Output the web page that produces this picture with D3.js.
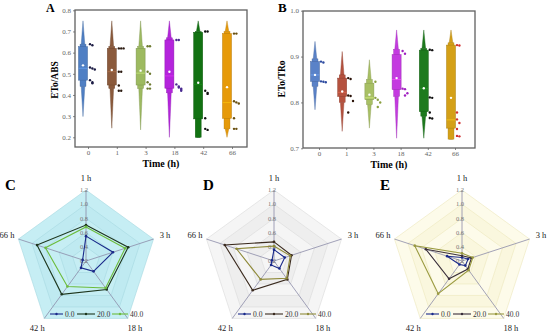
<!DOCTYPE html>
<html><head><meta charset="utf-8">
<script src="https://cdn.jsdelivr.net/npm/d3@7"></script>
<style>body{margin:0;background:#fff}svg{display:block;font-family:"Liberation Serif","Times New Roman",serif}</style>
</head><body><svg id="c" width="550" height="335"></svg>
<script>
// ---------- shared categories ----------
const times = ["0","1","3","18","42","66"];

// ---------- Panel A : ETo/ABS ----------
const aTicks = [0.2,0.3,0.4,0.5,0.6,0.7,0.8];
const aMax  = [0.75,0.75,0.75,0.75,0.75,0.75];
const aHi2  = [0.64,0.63,0.63,0.67,0.70,0.70];
const aQ3   = [0.628,0.62,0.62,0.66,0.696,0.69];
const aMed  = [0.526,0.51,0.503,0.49,0.45,0.364];
const aMean = [0.54,0.518,0.515,0.51,0.458,0.437];
const aQ1   = [0.47,0.447,0.447,0.432,0.287,0.29];
const aLo2  = [0.44,0.43,0.43,0.41,0.2,0.24];
const aMin  = [0.298,0.243,0.235,0.2,0.2,0.2];
const aPts  = [
  [0.64,0.635,0.53,0.525,0.52,0.47,0.46,0.455],
  [0.62,0.62,0.62,0.51,0.51,0.445,0.42,0.42],
  [0.63,0.63,0.51,0.50,0.46,0.45,0.43,0.43],
  [0.66,0.66,0.45,0.44,0.435,0.43,0.425,0.42],
  [0.70,0.70,0.42,0.41,0.405,0.29,0.24,0.235],
  [0.69,0.69,0.37,0.365,0.36,0.29,0.24,0.24]
];
const aColors   = ["#4f7fc4","#8b5a3c","#9dba60","#b424dc","#127212","#e69a0a"];
const aPtColors = ["#1c1c44","#2a1a10","#6d7a30","#4a2a90","#111111","#6a5010"];

// ---------- Panel B : ETo/TRo ----------
const bTicks = [0.7,0.8,0.9,1.0];
const bMax  = [0.933,0.911,0.893,0.958,0.958,0.958];
const bHi2  = [0.895,0.86,0.85,0.916,0.918,0.93];
const bQ3   = [0.889,0.853,0.842,0.904,0.914,0.925];
const bMed  = [0.86,0.822,0.81,0.85,0.83,0.762];
const bMean = [0.86,0.824,0.817,0.853,0.831,0.81];
const bQ1   = [0.846,0.813,0.806,0.828,0.78,0.744];
const bLo2  = [0.835,0.80,0.795,0.813,0.77,0.72];
const bMin  = [0.784,0.737,0.744,0.722,0.722,0.72];
const bPts  = [
  [0.889,0.887,0.846,0.845,0.844],
  [0.853,0.851,0.815,0.814,0.803,0.778],
  [0.845,0.81,0.806,0.80,0.79],
  [0.912,0.906,0.83,0.829,0.82,0.815],
  [0.915,0.914,0.811,0.81,0.778,0.766,0.765],
  [0.925,0.924,0.778,0.763,0.755,0.742,0.727,0.726]
];
const bColors   = ["#5a82c8","#b5523f","#a8c064","#c43ae0","#1d7a1d","#d4a017"];
const bPtColors = ["#2c4aa0","#2a1208","#8aa040","#a020c0","#111111","#d03030"];

// ---------- Radar panels C, D, E ----------
const radarAxes   = ["1 h","3 h","18 h","42 h","66 h"];
const radarTicks  = [0.2,0.4,0.6,0.8,1.0,1.2];
const seriesNames = ["0.0","20.0","40.0"];
const cValues = [
  [0.55,0.60,0.38,0.32,0.25],
  [0.707,0.825,0.695,0.78,0.925],
  [0.68,0.78,0.67,0.645,0.80]
];
const dValues = [
  [0.36,0.36,0.33,0.27,0.23],
  [0.47,0.46,0.52,0.71,0.93],
  [0.41,0.44,0.50,0.52,0.755]
];
const eValues = [
  [0.25,0.29,0.28,0.26,0.42],
  [0.275,0.34,0.34,0.51,0.735],
  [0.31,0.36,0.36,0.77,0.90]
];

const svg = d3.select("#c");
const font = '"Liberation Serif","Times New Roman",serif';

function boxPanel(opt){
  const g = svg.append("g");
  const x = d3.scalePoint().domain(times).range(opt.xr);
  const y = d3.scaleLinear().domain(opt.yd).range(opt.yr);
  const ya = g.append("g").attr("transform",`translate(${opt.x0},0)`)
    .call(d3.axisLeft(y).tickValues(opt.ticks).tickFormat(d3.format(".1f")).tickSize(2).tickPadding(2).tickSizeOuter(0));
  ya.select(".domain").remove();
  ya.selectAll("text").attr("font-size",7).attr("fill","#666").attr("font-family",font);
  ya.selectAll("line").attr("stroke","#888");
  const xa = g.append("g").attr("transform",`translate(0,${opt.y1})`)
    .call(d3.axisBottom(x).tickSize(2).tickPadding(1).tickSizeOuter(0));
  xa.select(".domain").remove();
  xa.selectAll("text").attr("font-size",7).attr("fill","#666").attr("font-family",font);
  xa.selectAll("line").attr("stroke","#888");

  const w = opt.w, sw = w*0.2, lw = w*0.33;
  times.forEach((t,i)=>{
    const cx = x(t)+opt.off, c = opt.colors[i], dk = d3.color(c).darker(0.6).formatHex();
    g.append("path").attr("d",d3.line()([[cx,y(opt.maxs[i])],[cx+sw,y(opt.hi2[i])],[cx-sw,y(opt.hi2[i])]])+"Z")
      .attr("fill",c).attr("stroke",dk).attr("stroke-width",0.4);
    g.append("path").attr("d",d3.line()([[cx-sw,y(opt.lo2[i])],[cx+sw,y(opt.lo2[i])],[cx,y(opt.mins[i])]])+"Z")
      .attr("fill",c).attr("stroke",dk).attr("stroke-width",0.4);
    g.append("rect").attr("x",cx-lw).attr("width",lw*2)
      .attr("y",y(opt.hi2[i])).attr("height",y(opt.lo2[i])-y(opt.hi2[i]))
      .attr("fill",c).attr("stroke",dk).attr("stroke-width",0.4);
    g.append("rect").attr("x",cx-w/2).attr("width",w)
      .attr("y",y(opt.q3[i])).attr("height",y(opt.q1[i])-y(opt.q3[i]))
      .attr("fill",c).attr("stroke",dk).attr("stroke-width",0.5);
    g.append("line").attr("x1",cx-w/2).attr("x2",cx+w/2).attr("y1",y(opt.med[i])).attr("y2",y(opt.med[i]))
      .attr("stroke",d3.color(c).brighter(0.8).formatHex()).attr("stroke-width",0.6);
    g.append("circle").attr("cx",cx).attr("cy",y(opt.mean[i])).attr("r",1.2).attr("fill","#fff");
    const seen = [];
    opt.pts[i].forEach(v=>{
      const k = seen.filter(s=>Math.abs(s-v)<0.012).length; seen.push(v);
      g.append("circle").attr("cx",x(t)+2+k*2.4).attr("cy",y(v)).attr("r",1.2)
        .attr("fill",opt.ptColors[i]);
    });
  });
}

boxPanel({x0:75,y1:147,xr:[88,232],yd:[0.2,0.8],yr:[137.3,10.3],ticks:aTicks,
  maxs:aMax,hi2:aHi2,q3:aQ3,med:aMed,mean:aMean,q1:aQ1,lo2:aLo2,mins:aMin,pts:aPts,
  colors:aColors,ptColors:aPtColors,off:-5,w:9});
boxPanel({x0:303,y1:148,xr:[319,455],yd:[0.7,1.0],yr:[148.3,10.7],ticks:bTicks,
  maxs:bMax,hi2:bHi2,q3:bQ3,med:bMed,mean:bMean,q1:bQ1,lo2:bLo2,mins:bMin,pts:bPts,
  colors:bColors,ptColors:bPtColors,off:-4,w:9});

// plot frames
svg.append("rect").attr("x",75).attr("y",10).attr("width",172).attr("height",137)
  .attr("fill","none").attr("stroke","#606060").attr("stroke-width",1.3);
svg.append("rect").attr("x",303).attr("y",11).attr("width",172).attr("height",137)
  .attr("fill","none").attr("stroke","#606060").attr("stroke-width",1.3);

svg.append("text").attr("transform","translate(58,80) rotate(-90)").attr("text-anchor","middle")
  .attr("font-size",9.5).attr("font-weight","bold").text("ETo/ABS");
svg.append("text").attr("transform","translate(285,79) rotate(-90)").attr("text-anchor","middle")
  .attr("font-size",9.5).attr("font-weight","bold").text("ETo/TRo");
svg.append("text").attr("x",161).attr("y",167).attr("text-anchor","middle")
  .attr("font-size",10).attr("font-weight","bold").text("Time (h)");
svg.append("text").attr("x",389).attr("y",168).attr("text-anchor","middle")
  .attr("font-size",10).attr("font-weight","bold").text("Time (h)");
[["A",46,12,12],["B",278,12,13],["C",5,190,15],["D",203,190,15],["E",380,190,15]].forEach(d=>{
  svg.append("text").attr("x",d[1]).attr("y",d[2]).attr("font-size",d[3]).attr("font-weight","bold").text(d[0]);
});

function radar(cx, cy, values, fills, gridStroke, lineColors){
  const R = 71;
  const g = svg.append("g").attr("transform",`translate(${cx},${cy})`);
  const r = d3.scaleLinear().domain([0.2,1.2]).range([0,R]);
  const ang = d3.scalePoint().domain(radarAxes).range([0, 2*Math.PI*4/5]);
  const pt = (a,rad)=>[rad*Math.sin(ang(a)), -rad*Math.cos(ang(a))];
  const poly = rad => d3.line()(radarAxes.map(a=>pt(a,rad)))+"Z";
  radarTicks.slice().reverse().forEach((t,i)=>{
    g.append("path").attr("d",poly(r(t))).attr("fill",fills[i%2])
      .attr("stroke",gridStroke).attr("stroke-width",0.6);
  });
  radarAxes.forEach(a=>{
    const p = pt(a,R);
    g.append("line").attr("x1",0).attr("y1",0).attr("x2",p[0]).attr("y2",p[1])
      .attr("stroke","#8c8ca8").attr("stroke-width",0.8);
    const q = pt(a,R*1.17);
    g.append("text").attr("x",q[0]).attr("y",q[1]).attr("dy","0.35em").attr("text-anchor","middle")
      .attr("font-size",8.5).attr("fill","#222").text(a);
  });
  radarTicks.forEach(t=>{
    g.append("text").attr("x",-2).attr("y",-r(t)).attr("dy","0.35em").attr("text-anchor","middle")
      .attr("font-size",6.5).attr("fill","#777").text(d3.format(".1f")(t));
  });
  values.forEach((vals,s)=>{
    const pts = radarAxes.map((a,k)=>pt(a,r(vals[k])));
    g.append("path").attr("d",d3.line()(pts)+"Z").attr("fill","none")
      .attr("stroke",lineColors[s]).attr("stroke-width",1.1);
    pts.forEach(p=>g.append("circle").attr("cx",p[0]).attr("cy",p[1]).attr("r",1.3).attr("fill",lineColors[s]));
  });
  const lx = [-36,-9,26], lw = [13,18,16];
  seriesNames.forEach((n,s)=>{
    const ly = 53;
    g.append("line").attr("x1",lx[s]).attr("x2",lx[s]+lw[s]).attr("y1",ly).attr("y2",ly)
      .attr("stroke",lineColors[s]).attr("stroke-width",1.1);
    g.append("circle").attr("cx",lx[s]+lw[s]/2).attr("cy",ly).attr("r",1.2).attr("fill",lineColors[s]);
    g.append("text").attr("x",lx[s]+lw[s]+2).attr("y",ly).attr("dy","0.35em")
      .attr("font-size",7.5).attr("fill","#333").text(n);
  });
}
radar(86,261,cValues,["#c6eef4","#bfeaf1"],"#a6d8e0",["#1a2a8a","#1d361d","#6cbc3c"]);
radar(274,261,dValues,["#f5f5f5","#eeeeee"],"#dadada",["#1a2a8a","#3a2a1e","#8f8a3a"]);
radar(462,261,eValues,["#fdfbea","#faf7de"],"#ece7bc",["#1a2a8a","#3a2f3a","#9a9a40"]);
</script></body></html>
